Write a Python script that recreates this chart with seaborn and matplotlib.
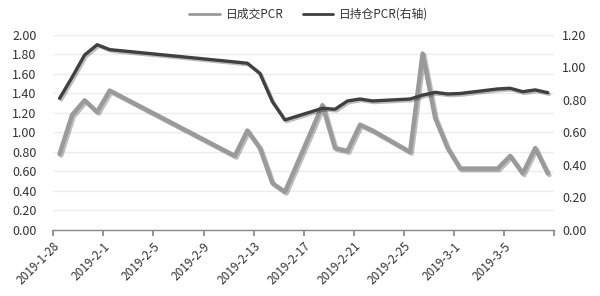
import matplotlib
matplotlib.use("Agg")
import matplotlib.pyplot as plt
import matplotlib.patheffects as pe
import seaborn as sns
import pandas as pd
import numpy as np

sns.set_theme(style="white")
plt.rcParams['font.family'] = ['Noto Sans CJK SC', 'DejaVu Sans']

dates = ["2019-01-28", "2019-01-29", "2019-01-30", "2019-01-31", "2019-02-01",
         "2019-02-11", "2019-02-12", "2019-02-13", "2019-02-14", "2019-02-15",
         "2019-02-18", "2019-02-19", "2019-02-20", "2019-02-21", "2019-02-22",
         "2019-02-25", "2019-02-26", "2019-02-27", "2019-02-28", "2019-03-01",
         "2019-03-04", "2019-03-05", "2019-03-06", "2019-03-07", "2019-03-08"]
volume_pcr = [0.78, 1.18, 1.33, 1.21, 1.43,
              0.76, 1.02, 0.84, 0.48, 0.39,
              1.28, 0.84, 0.81, 1.08, 1.02,
              0.80, 1.81, 1.15, 0.84, 0.63,
              0.63, 0.76, 0.58, 0.84, 0.58]
oi_pcr = [0.81, 0.94, 1.077, 1.14, 1.11,
          1.034, 1.026, 0.964, 0.79, 0.677,
          0.749, 0.743, 0.794, 0.806, 0.794,
          0.806, 0.83, 0.847, 0.837, 0.84,
          0.868, 0.872, 0.851, 0.862, 0.845]
tick_labels = ["2019-1-28", "2019-2-1", "2019-2-5", "2019-2-9", "2019-2-13",
               "2019-2-17", "2019-2-21", "2019-2-25", "2019-3-1", "2019-3-5"]
left_ticks = [0.0, 0.2, 0.4, 0.6, 0.8, 1.0, 1.2, 1.4, 1.6, 1.8, 2.0]
right_ticks = [0.0, 0.2, 0.4, 0.6, 0.8, 1.0, 1.2]

start = pd.Timestamp("2019-01-28")
df = pd.DataFrame({
    "date": pd.to_datetime(dates),
    "vol": volume_pcr,
    "oi": oi_pcr,
})
# Excel-style date axis: points centred in day interval
df["x"] = (df["date"] - start).dt.days + 0.5

fig = plt.figure(figsize=(6.0, 2.96), dpi=100)
ax = fig.add_axes([0.0889, 0.223, 0.8345, 0.6588])
ax2 = ax.twinx()

shadow = [pe.SimpleLineShadow(offset=(1.2, -1.2), shadow_color="#000000", alpha=0.25), pe.Normal()]

sns.lineplot(data=df, x="x", y="vol", ax=ax, color="#9a9a9a", linewidth=3.2,
             label="日成交PCR", legend=False)
sns.lineplot(data=df, x="x", y="oi", ax=ax2, color="#404040", linewidth=2.4,
             label="日持仓PCR(右轴)", legend=False)
for l in ax.get_lines() + ax2.get_lines():
    l.set_path_effects(shadow)
    l.set_solid_joinstyle("round")

ax.set_xlim(0, 40)
ax.set_ylim(0, 2.0)
ax2.set_ylim(0, 1.2)
ax.set_yticks(left_ticks)
ax.set_yticklabels([f"{v:.2f}" for v in left_ticks])
ax2.set_yticks(right_ticks)
ax2.set_yticklabels([f"{v:.2f}" for v in right_ticks])

ax.set_xticks(np.arange(0, 41, 4))
ax.set_xticklabels(tick_labels + [""], rotation=45, ha="right", rotation_mode="anchor")
ax.set_xlabel("")
ax.set_ylabel("")
ax2.set_ylabel("")

ax.grid(axis="y", color="#ececec", linewidth=1.0)
ax.set_axisbelow(True)
for a in (ax, ax2):
    for s in ["top", "right", "left", "bottom"]:
        a.spines[s].set_visible(False)
ax.spines["bottom"].set_visible(True)
ax.spines["bottom"].set_color("#888888")
ax.spines["bottom"].set_linewidth(1.0)

ax.tick_params(axis="x", which="major", direction="out", length=4, color="#888888",
               labelsize=8.5, labelcolor="#333333", pad=3, bottom=True)
ax.tick_params(axis="y", length=0, labelsize=9, labelcolor="#333333", pad=12)
ax2.tick_params(axis="y", length=0, labelsize=9, labelcolor="#333333", pad=6)

h1, l1 = ax.get_legend_handles_labels()
h2, l2 = ax2.get_legend_handles_labels()
handles = h1 + h2
leg = fig.legend(handles, l1 + l2, loc="upper center", bbox_to_anchor=(0.515, 1.01), ncol=2,
                 frameon=False, fontsize=8.5, handlelength=2.6, columnspacing=1.6,
                 handletextpad=0.5)
for t in leg.get_texts():
    t.set_color("#333333")
for lh in leg.get_lines():
    lh.set_linewidth(2)
    lh.set_path_effects([])

fig.savefig("out.png", dpi=100)
